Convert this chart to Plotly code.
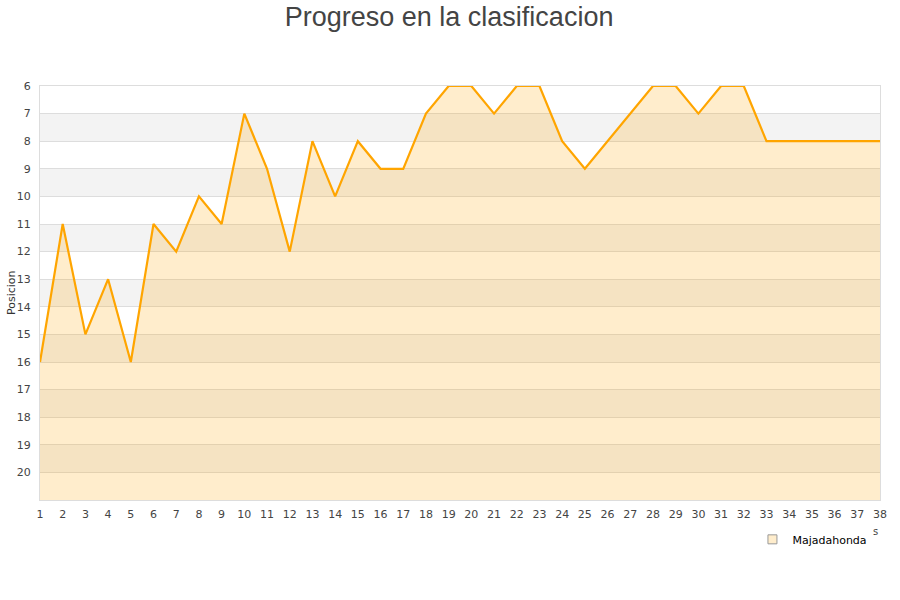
import plotly.graph_objects as go

# Jornadas y posicion en la clasificacion
jornadas = list(range(1, 39))
posicion = [16, 11, 15, 13, 16, 11, 12, 10, 11, 7,
            9, 12, 8, 10, 8, 9, 9, 7, 6, 6,
            7, 6, 6, 8, 9, 8, 7, 6, 6, 7,
            6, 6, 8, 8, 8, 8, 8, 8]
equipo = "Majadahonda"
y_ticks = list(range(6, 21))
y_bottom = 21
y_top = 6

fig = go.Figure()

# base line at the bottom of the axis, so the fill goes down to it
fig.add_trace(go.Scatter(x=jornadas, y=[y_bottom] * len(jornadas), mode="lines",
                         line=dict(width=0), hoverinfo="skip", showlegend=False))
fig.add_trace(go.Scatter(x=jornadas, y=posicion, mode="lines", name=equipo,
                         fill="tonexty", fillcolor="rgba(255,165,0,0.2)",
                         line=dict(color="#FFA500", width=2.2), showlegend=False))
# legend entry (square)
fig.add_trace(go.Scatter(x=[None], y=[None], mode="markers", name=equipo,
                         marker=dict(symbol="square", size=9, color="#FFEDCC",
                                     line=dict(color="#999999", width=1))))

# alternating gray bands
for v in range(7, 21, 2):
    fig.add_shape(type="rect", xref="paper", yref="y", x0=0, x1=1, y0=v, y1=v + 1,
                  fillcolor="#F3F3F3", line_width=0, layer="below")

fig.update_layout(
    width=900, height=600,
    paper_bgcolor="white", plot_bgcolor="white",
    margin=dict(l=40, r=20, t=86, b=100),
    title=dict(text="Progreso en la clasificacion", x=0.499, xanchor="center",
               y=0.973, yanchor="middle", automargin=False,
               font=dict(family="Liberation Sans, Arial", size=27, color="#444444")),
    font=dict(family="DejaVu Sans", size=11, color="#444444"),
    legend=dict(x=0.991, y=-0.06, xanchor="right", yanchor="top",
                itemwidth=30,
                font=dict(size=11, color="#000000"), bgcolor="rgba(0,0,0,0)"),
    showlegend=True,
)
fig.update_xaxes(range=[1, 38], tickmode="array", tickvals=jornadas,
                 showgrid=False, zeroline=False, showline=True, linecolor="#DDDDDD",
                 mirror=True, ticks="", automargin=False, ticklabelstandoff=4,
                 tickfont=dict(size=11, color="#444444"))
fig.update_yaxes(range=[y_bottom, y_top], tickmode="array", tickvals=y_ticks,
                 showgrid=True, gridcolor="#DDDDDD", zeroline=False,
                 showline=True, linecolor="#DDDDDD", mirror=True, ticks="",
                 automargin=False, ticklabelstandoff=6,
                 tickfont=dict(size=11, color="#444444"))

fig.add_annotation(text="Posicion", xref="paper", yref="paper", x=-0.0345, y=0.5,
                   xanchor="center", yanchor="middle", textangle=-90,
                   showarrow=False, font=dict(size=11, color="#333333"))
fig.add_annotation(text="s", xref="paper", yref="paper", x=0.995, y=-0.075,
                   xanchor="center", yanchor="middle",
                   showarrow=False, font=dict(size=10, color="#444444"))

# drop the default 8px body margin of the page
fig.write_html("out.html", config={"displayModeBar": False},
               post_script="document.body.style.margin = '0px';")
